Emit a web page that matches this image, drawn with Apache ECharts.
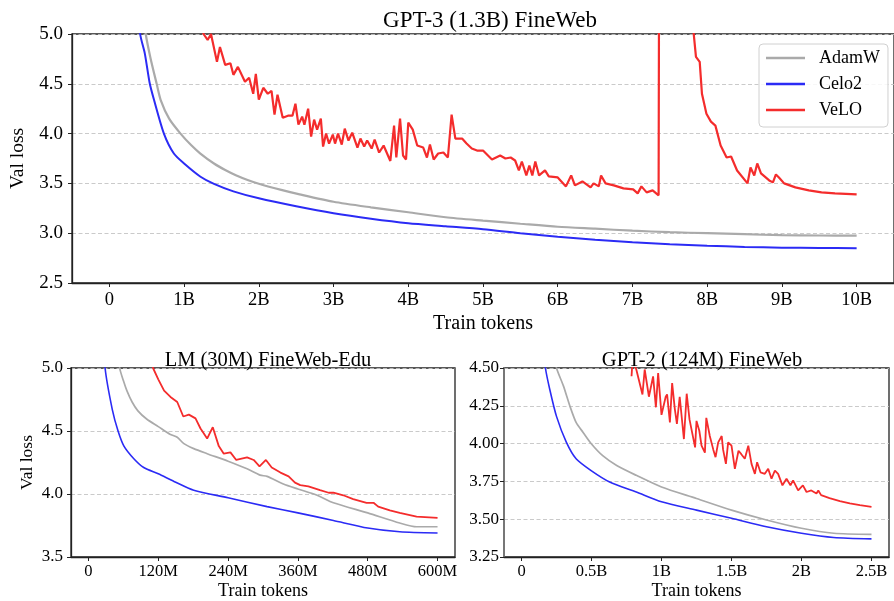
<!DOCTYPE html>
<html>
<head>
<meta charset="utf-8">
<script src="https://cdn.jsdelivr.net/npm/echarts@6/dist/echarts.min.js"></script>
<style>
  html, body { margin: 0; padding: 0; background: #fff; }
  #chart { width: 894px; height: 601px; }
</style>
</head>
<body>
<div id="chart"></div>
<script>
// series names
const optimizers = ["AdamW", "Celo2", "VeLO"];

// GPT-3 (1.3B) FineWeb, x in billions of tokens
const gpt3AdamW = [[0.35,5.8],[0.487,5.0],[0.55,4.76],[0.633,4.5],[0.687,4.337],[0.8,4.15],[0.952,4.0],[1.1,3.88],[1.218,3.80],[1.4,3.70],[1.55,3.635],[1.7,3.58],[1.85,3.535],[2.0,3.497],[2.3,3.435],[2.546,3.39],[3.0,3.316],[3.5,3.26],[4.0,3.21],[4.5,3.16],[5.0,3.126],[5.5,3.095],[6.0,3.065],[6.5,3.045],[7.0,3.025],[7.5,3.01],[8.0,3.0],[8.5,2.99],[9.0,2.98],[9.5,2.977],[10.0,2.975]];
const gpt3Celo2 = [[0.3,5.9],[0.412,5.0],[0.474,4.806],[0.54,4.505],[0.598,4.337],[0.73,4.0],[0.863,3.80],[1.0,3.70],[1.22,3.567],[1.4,3.495],[1.66,3.42],[2.0,3.35],[2.5,3.27],[3.0,3.2],[3.5,3.145],[4.0,3.10],[4.5,3.07],[5.0,3.04],[5.5,3.0],[6.0,2.965],[6.5,2.935],[7.0,2.91],[7.5,2.89],[8.0,2.875],[8.5,2.862],[9.0,2.855],[9.5,2.851],[10.0,2.85]];
const gpt3VeLO = [[1.22,5.3],[1.26,5.0],[1.315,4.94],[1.36,5.0],[1.44,4.72],[1.48,4.87],[1.55,4.69],[1.62,4.706],[1.66,4.59],[1.72,4.67],[1.815,4.52],[1.87,4.56],[1.925,4.40],[1.96,4.60],[2.0,4.34],[2.06,4.46],[2.12,4.40],[2.17,4.43],[2.21,4.19],[2.25,4.39],[2.32,4.16],[2.39,4.18],[2.45,4.18],[2.49,4.30],[2.53,4.09],[2.58,4.17],[2.61,4.09],[2.66,4.25],[2.70,3.97],[2.74,4.14],[2.78,4.04],[2.83,4.15],[2.86,3.87],[2.9,4.0],[2.94,3.90],[2.99,3.99],[3.02,3.90],[3.06,4.0],[3.11,3.89],[3.15,4.05],[3.20,3.93],[3.25,4.01],[3.32,3.86],[3.36,3.95],[3.41,3.87],[3.45,3.93],[3.51,3.85],[3.55,3.94],[3.61,3.81],[3.67,3.88],[3.76,3.725],[3.81,4.08],[3.84,3.76],[3.89,4.15],[3.93,3.78],[3.97,3.74],[4.0,4.11],[4.06,4.04],[4.12,3.88],[4.2,3.86],[4.25,3.76],[4.29,3.89],[4.34,3.74],[4.4,3.80],[4.47,3.81],[4.53,3.76],[4.58,4.19],[4.63,3.95],[4.72,3.95],[4.78,3.90],[4.85,3.85],[4.92,3.83],[5.0,3.83],[5.12,3.74],[5.23,3.78],[5.30,3.75],[5.37,3.76],[5.43,3.73],[5.48,3.63],[5.52,3.72],[5.58,3.58],[5.62,3.68],[5.66,3.58],[5.70,3.72],[5.75,3.58],[5.83,3.63],[5.88,3.57],[6.0,3.56],[6.11,3.47],[6.18,3.58],[6.23,3.48],[6.33,3.52],[6.44,3.46],[6.48,3.50],[6.55,3.47],[6.58,3.58],[6.64,3.50],[6.75,3.48],[6.88,3.45],[7.01,3.44],[7.07,3.40],[7.12,3.47],[7.19,3.41],[7.27,3.43],[7.35,3.38],[7.36,7.0],[7.8,6.0],[7.82,5.0],[7.85,4.77],[7.9,4.72],[7.93,4.40],[7.99,4.20],[8.05,4.12],[8.11,4.08],[8.18,3.88],[8.26,3.76],[8.32,3.77],[8.40,3.63],[8.54,3.50],[8.58,3.66],[8.63,3.58],[8.67,3.70],[8.72,3.60],[8.83,3.53],[8.88,3.51],[8.92,3.59],[8.96,3.56],[9.03,3.50],[9.18,3.46],[9.36,3.43],[9.53,3.41],[9.71,3.40],[10.0,3.39]];

// LM (30M) FineWeb-Edu, x in millions of tokens
const lmAdamW = [[45,5.4],[53.7,5.0],[60,4.9],[66,4.82],[75,4.73],[85,4.66],[100,4.595],[120,4.535],[140,4.475],[152.6,4.45],[164,4.40],[181,4.36],[204,4.32],[240,4.26],[272.6,4.20],[295,4.15],[307,4.14],[335,4.08],[360,4.04],[393,3.99],[421,3.93],[480,3.85],[535,3.77],[564,3.74],[600,3.74]];
const lmCelo2 = [[20,5.6],[28.6,5.0],[41,4.67],[50.9,4.5],[61,4.38],[78,4.28],[95,4.21],[120,4.16],[147,4.10],[181,4.03],[240,3.97],[307,3.90],[360,3.85],[421,3.79],[480,3.73],[535,3.70],[600,3.69]];
const lmVeLO = [[105,5.2],[111,5.0],[120,4.91],[130,4.82],[141,4.77],[152.6,4.73],[163,4.615],[172.6,4.63],[184,4.60],[192.6,4.52],[204,4.44],[213.7,4.53],[224,4.38],[232.6,4.32],[244,4.33],[254,4.27],[272.6,4.29],[284,4.27],[294,4.22],[305,4.27],[315,4.21],[330,4.17],[344,4.14],[355,4.09],[364,4.07],[378,4.06],[398,4.03],[413,4.01],[421,4.01],[438,3.99],[455,3.96],[478,3.93],[490,3.93],[498,3.90],[518,3.87],[535,3.85],[564,3.82],[600,3.81]];

// GPT-2 (124M) FineWeb, x in billions of tokens
const gpt2AdamW = [[0.22,4.64],[0.25,4.5],[0.30,4.38],[0.345,4.25],[0.39,4.14],[0.44,4.074],[0.5,3.997],[0.58,3.92],[0.68,3.855],[0.82,3.79],[1.0,3.713],[1.25,3.637],[1.5,3.56],[1.75,3.495],[2.0,3.44],[2.23,3.407],[2.5,3.40]];
const gpt2Celo2 = [[0.12,4.9],[0.171,4.5],[0.202,4.358],[0.25,4.18],[0.32,4.01],[0.39,3.90],[0.5,3.82],[0.63,3.746],[0.82,3.68],[1.0,3.615],[1.25,3.56],[1.5,3.506],[1.75,3.45],[2.0,3.407],[2.23,3.379],[2.5,3.37]];
const gpt2VeLO = [[0.786,4.445],[0.793,4.55],[0.82,4.49],[0.864,4.325],[0.88,4.49],[0.91,4.31],[0.94,4.445],[0.96,4.24],[0.976,4.467],[1.0,4.19],[1.03,4.31],[1.04,4.325],[1.06,4.14],[1.076,4.40],[1.095,4.23],[1.11,4.13],[1.13,4.31],[1.16,4.03],[1.18,4.33],[1.20,4.16],[1.24,3.975],[1.25,4.15],[1.27,4.085],[1.286,3.986],[1.31,3.94],[1.32,4.17],[1.345,4.05],[1.37,3.96],[1.386,3.91],[1.405,4.008],[1.43,4.05],[1.44,3.96],[1.46,3.866],[1.476,4.008],[1.5,3.986],[1.524,3.833],[1.55,3.953],[1.57,3.93],[1.595,3.90],[1.62,3.986],[1.643,3.866],[1.667,3.80],[1.683,3.877],[1.707,3.81],[1.738,3.80],[1.762,3.833],[1.786,3.768],[1.81,3.822],[1.833,3.80],[1.864,3.724],[1.893,3.768],[1.921,3.724],[1.94,3.757],[1.976,3.69],[2.01,3.724],[2.036,3.68],[2.07,3.69],[2.107,3.67],[2.12,3.69],[2.14,3.659],[2.2,3.64],[2.274,3.62],[2.345,3.604],[2.417,3.593],[2.5,3.582]];

// tick values
const gpt3Ticks = [0, 1, 2, 3, 4, 5, 6, 7, 8, 9, 10];
const lmTicks = [0, 120, 240, 360, 480, 600];
const gpt2Ticks = [0, 0.5, 1, 1.5, 2, 2.5];

const colors = ["#aaaaaa", "#2b2bf5", "#f42c2c"];
const font = "Liberation Serif";

const chart = echarts.init(document.getElementById("chart"), null, { renderer: "canvas" });

function xAxisFor(idx, min, max, ticks, unit, size, labelMargin, nameGap) {
  return {
    type: "value", gridIndex: idx, min: min, max: max,
    name: "Train tokens", nameLocation: "middle", nameGap: nameGap,
    nameTextStyle: { fontFamily: font, fontSize: size + 1.5, color: "#000" },
    axisLine: { show: true, onZero: false, lineStyle: { color: "#222", width: 1.3 } },
    axisTick: { show: true, length: 4, customValues: ticks, lineStyle: { color: "#222" } },
    axisLabel: {
      customValues: ticks, margin: labelMargin,
      fontFamily: font, fontSize: size, color: "#000",
      formatter: v => (v === 0 ? "0" : v + unit)
    },
    splitLine: { show: false }
  };
}

function yAxisFor(idx, min, max, interval, digits, size, labelMargin, nameGap, showName, lineColor) {
  return {
    type: "value", gridIndex: idx, min: min, max: max, interval: interval,
    name: showName ? "Val loss" : "", nameLocation: "middle", nameGap: nameGap,
    nameTextStyle: { fontFamily: font, fontSize: size + 0.5, color: "#000" },
    axisLine: { show: true, onZero: false, lineStyle: { color: lineColor || "#222", width: lineColor ? 2 : 1.3 } },
    axisTick: { show: true, length: 4, lineStyle: { color: "#222" } },
    axisLabel: {
      margin: labelMargin, fontFamily: font, fontSize: size, color: "#000",
      formatter: v => v.toFixed(digits)
    },
    splitLine: { show: true, lineStyle: { color: "#c4c4c4", type: [4, 2.5], width: 0.9 } }
  };
}

function lines(idx, sets, widths) {
  return sets.map((d, i) => ({
    name: optimizers[i], type: "line", xAxisIndex: idx, yAxisIndex: idx,
    data: d, symbol: "none", clip: true, animation: false,
    smooth: i === 2 ? false : 0.25,
    lineStyle: { color: colors[i], width: widths[i] },
    itemStyle: { color: colors[i] },
    z: 3 + i
  }));
}

chart.setOption({
  animation: false,
  color: colors,
  textStyle: { fontFamily: font },
  title: [
    { text: "GPT-3 (1.3B) FineWeb", left: 485, top: 4, textAlign: "center",
      textStyle: { fontFamily: font, fontSize: 23, fontWeight: "normal", color: "#000" } },
    { text: "LM (30M) FineWeb-Edu", left: 263, top: 345, textAlign: "center",
      textStyle: { fontFamily: font, fontSize: 20.5, fontWeight: "normal", color: "#000" } },
    { text: "GPT-2 (124M) FineWeb", left: 697, top: 345, textAlign: "center",
      textStyle: { fontFamily: font, fontSize: 20.5, fontWeight: "normal", color: "#000" } }
  ],
  legend: {
    data: optimizers, orient: "vertical", left: 759, top: 44,
    icon: "rect", itemWidth: 39, itemHeight: 2.5, itemGap: 8,
    padding: [5, 8, 8, 7],
    backgroundColor: "rgba(255,255,255,0.85)", borderColor: "#d0d0d0", borderWidth: 1, borderRadius: 4,
    textStyle: { fontFamily: font, fontSize: 18, color: "#000", padding: [0, 0, 0, 9] }
  },
  grid: [
    { left: 72, top: 34, right: -5, bottom: 318, show: true, borderColor: "#222", borderWidth: 1.3 },
    { left: 71, top: 368, right: 439, bottom: 42, show: true, borderColor: "#222", borderWidth: 1.3 },
    { left: 504, top: 368, right: 5, bottom: 42, show: true, borderColor: "#222", borderWidth: 1.3 }
  ],
  xAxis: [
    xAxisFor(0, -0.5, 10.5, gpt3Ticks, "B", 18.5, 8, 31),
    xAxisFor(1, -30, 630, lmTicks, "M", 16.5, 6, 25),
    xAxisFor(2, -0.125, 2.625, gpt2Ticks, "B", 16.5, 6, 25)
  ],
  yAxis: [
    yAxisFor(0, 2.5, 5.0, 0.5, 1, 19, 9, 43, true),
    yAxisFor(1, 3.5, 5.0, 0.5, 1, 17, 8, 35, true),
    yAxisFor(2, 3.25, 4.5, 0.25, 2, 17, 5, 40, false, "#777")
  ],
  series: [
    ...lines(0, [gpt3AdamW, gpt3Celo2, gpt3VeLO], [2.2, 2, 2.2]),
    ...lines(1, [lmAdamW, lmCelo2, lmVeLO], [1.7, 1.6, 1.8]),
    ...lines(2, [gpt2AdamW, gpt2Celo2, gpt2VeLO], [1.7, 1.6, 1.8])
  ]
});
</script>
</body>
</html>
